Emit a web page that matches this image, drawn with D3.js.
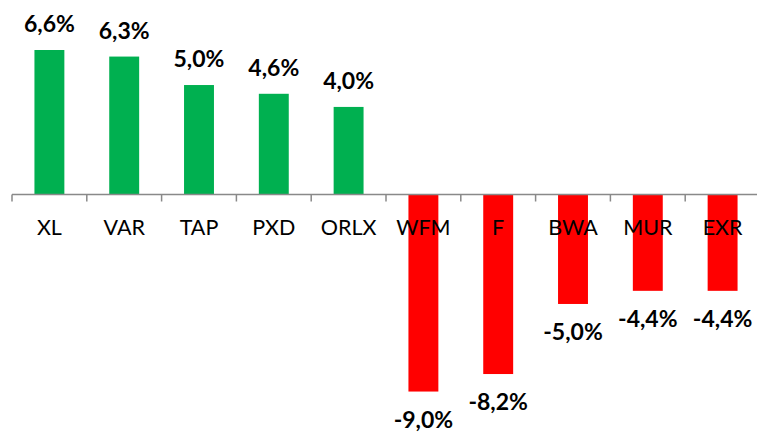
<!DOCTYPE html>
<html>
<head>
<meta charset="utf-8">
<script src="https://cdn.jsdelivr.net/npm/d3@7"></script>
<style>
  body { margin: 0; background: #fff; }
  text { font-family: Lato, "Open Sans", sans-serif; }
</style>
</head>
<body>
<script>
// tickers and their returns (%)
const tickers = ["XL", "VAR", "TAP", "PXD", "ORLX", "WFM", "F", "BWA", "MUR", "EXR"];
const returns = [6.6, 6.3, 5.0, 4.6, 4.0, -9.0, -8.2, -5.0, -4.4, -4.4];

const outerWidth = 757;
const outerHeight = 432;

const svg = d3.select("body").append("svg")
    .attr("width", outerWidth)
    .attr("height", outerHeight);

const data = tickers.map((t, i) => ({ ticker: t, value: returns[i] }));

// category scale runs a bit past the right edge, like the original
const xScale = d3.scaleBand()
    .domain(tickers)
    .range([12, 760])
    .paddingInner(0.6)
    .paddingOuter(0.3);

const yScale = d3.scaleLinear()
    .domain([0, 6.6])
    .range([194.5, 50]);

// comma decimal, plain hyphen for negatives
const fmt = v => v.toFixed(1).replace(".", ",") + "%";

// bars
svg.selectAll(".bar")
    .data(data)
    .join("rect")
    .attr("class", "bar")
    .attr("x", d => xScale(d.ticker))
    .attr("width", xScale.bandwidth())
    .attr("y", d => yScale(Math.max(0, d.value)))
    .attr("height", d => Math.abs(yScale(d.value) - yScale(0)))
    .style("fill", d => d.value >= 0 ? "#00B050" : "#FF0000");

// axis line + ticks at category boundaries
const step = xScale.step();
const gap = (step - xScale.bandwidth()) / 2;
const axis = svg.append("g").attr("class", "axis");
axis.append("line")
    .attr("x1", xScale.range()[0])
    .attr("x2", outerWidth)
    .attr("y1", yScale(0))
    .attr("y2", yScale(0))
    .style("stroke", "#898989")
    .style("stroke-width", 1.5);
axis.selectAll(".tick")
    .data(tickers)
    .join("line")
    .attr("class", "tick")
    .attr("x1", d => xScale(d) - gap)
    .attr("x2", d => xScale(d) - gap)
    .attr("y1", yScale(0))
    .attr("y2", yScale(0) + 7)
    .style("stroke", "#898989")
    .style("stroke-width", 1.5);

// category labels sit just below the axis, on top of the red bars
svg.selectAll(".cat")
    .data(data)
    .join("text")
    .attr("class", "cat")
    .attr("x", d => xScale(d.ticker) + xScale.bandwidth() / 2)
    .attr("y", 235)
    .attr("text-anchor", "middle")
    .style("font-size", "21.5px")
    .style("fill", "#000")
    .text(d => d.ticker);

// value labels
svg.selectAll(".val")
    .data(data)
    .join("text")
    .attr("class", "val")
    .attr("x", d => xScale(d.ticker) + xScale.bandwidth() / 2)
    .attr("y", d => d.value >= 0 ? yScale(d.value) - 18 : yScale(d.value) + 36)
    .attr("text-anchor", "middle")
    .style("font-size", "23px")
    .style("font-weight", "bold")
    .style("fill", "#000")
    .text(d => fmt(d.value));
</script>
</body>
</html>
